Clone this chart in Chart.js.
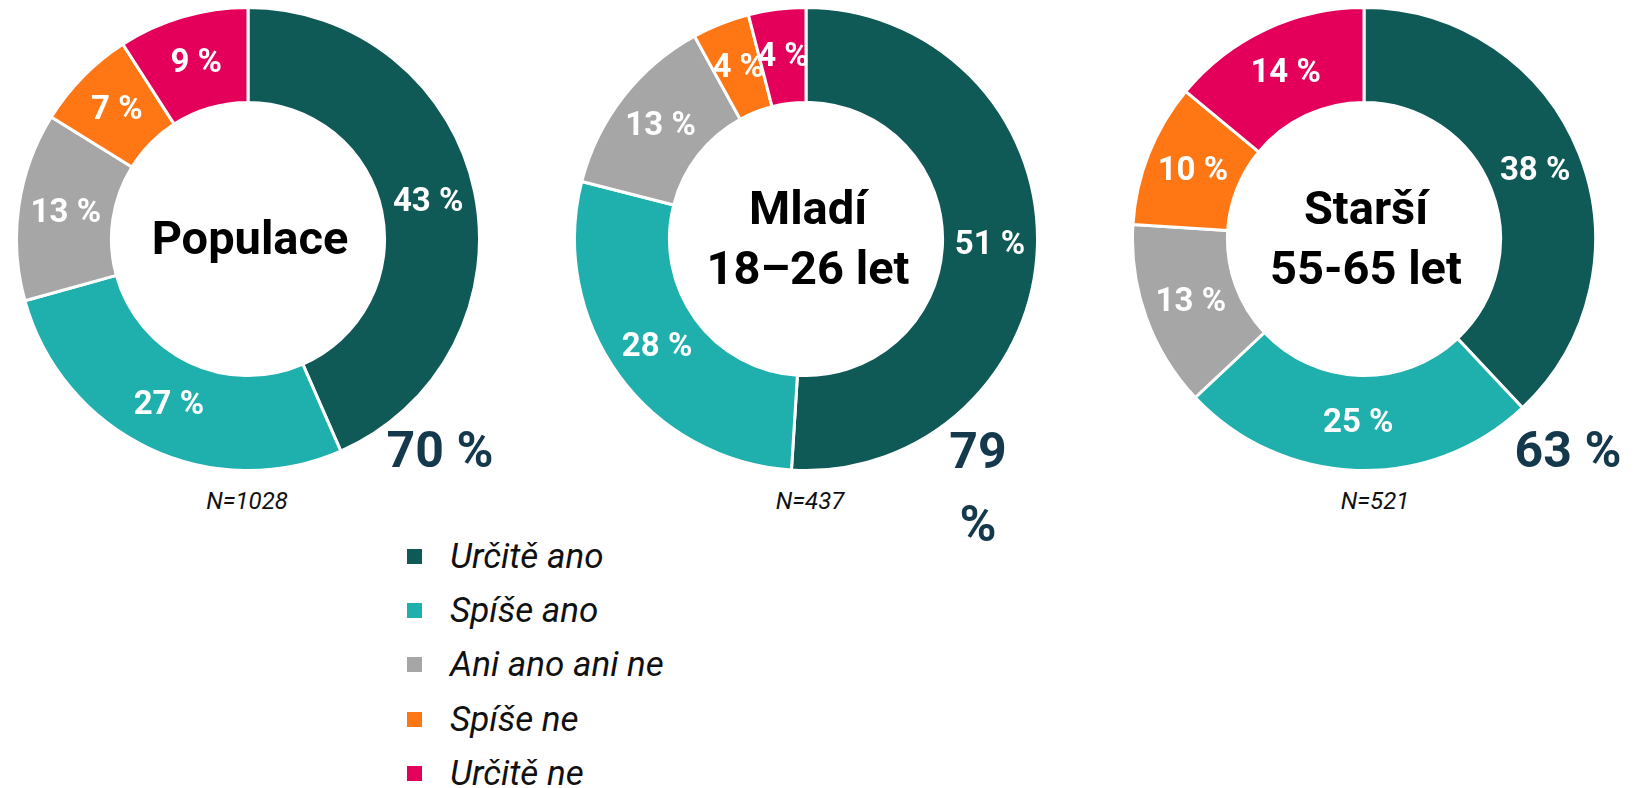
<!DOCTYPE html>
<html lang="cs">
<head>
<meta charset="utf-8">
<script src="https://cdn.jsdelivr.net/npm/chart.js@4"></script>
<style>
  html, body { margin: 0; padding: 0; background: #fff; }
  body { width: 1647px; height: 788px; position: relative; overflow: hidden; font-family: Roboto, "Noto Sans", sans-serif; }
  .box { position: absolute; width: 466px; height: 466px; }
  .txt { position: absolute; transform: translate(-50%, -50%); white-space: nowrap; text-align: center; }
  .center { font-weight: 700; font-size: 47px; line-height: 60px; color: #000; }
  .total { font-weight: 700; font-size: 50px; line-height: 73px; color: #14394d; white-space: normal; }
  .n { font-style: italic; font-size: 24px; color: #111; }
  #legend { position: absolute; left: 407px; top: 529px; }
  .row { height: 54.4px; display: flex; align-items: center; }
  .sq { width: 15px; height: 15px; margin-right: 28px; }
  .lab { font-style: italic; font-size: 35px; color: #111; }
</style>
</head>
<body>

<div class="box" style="left:15px;top:6px"><canvas id="c0"></canvas></div>
<div class="box" style="left:573px;top:6px"><canvas id="c1"></canvas></div>
<div class="box" style="left:1131px;top:6px"><canvas id="c2"></canvas></div>
<div id="labels"></div>
<div id="legend"></div>

<script>
/* DATA */
const categories = ["Určitě ano", "Spíše ano", "Ani ano ani ne", "Spíše ne", "Určitě ne"];

const colors = ["#0f5957", "#1fb0ad", "#a6a6a6", "#ff7615", "#e4005a"];

const populace = [43, 27, 13, 7, 9];
const mladi = [51, 28, 13, 4, 4];
const starsi = [38, 25, 13, 10, 14];

const groupTitles = [["Populace"], ["Mladí", "18–26 let"], ["Starší", "55-65 let"]];
const sampleSizes = [1028, 437, 521];


/* LAYOUT (page pixels) */
const centers = [[248, 238], [806, 238], [1364, 238]];
const totalPos = [[440, 450], [978, 488], [1568, 450]];
const totalWidth = [140, 70, 140];
const nPos = [[247, 501], [810, 501], [1375, 501]];


/* SLICE LABELS */
const sliceLabels = {
  id: "sliceLabels",
  afterDatasetsDraw(chart) {
    const ctx = chart.ctx;
    const meta = chart.getDatasetMeta(0);
    const values = chart.data.datasets[0].data;
    ctx.save();
    ctx.fillStyle = "#fff";
    ctx.font = "700 33px Roboto";
    ctx.textAlign = "center";
    ctx.textBaseline = "middle";
    meta.data.forEach((arc, i) => {
      const p = arc.tooltipPosition();
      ctx.fillText(values[i] + " %", p.x, p.y + 1);
    });
    ctx.restore();
  }
};


function makeChart(id, values) {
  return new Chart(document.getElementById(id), {
    type: "doughnut",
    data: {
      labels: categories,
      datasets: [{
        data: values,
        backgroundColor: colors,
        borderColor: "#fff",
        borderWidth: 3
      }]
    },
    options: {
      responsive: true,
      maintainAspectRatio: false,
      animation: false,
      cutout: "59%",
      plugins: {
        legend: { display: false },
        tooltip: { enabled: false }
      }
    },
    plugins: [sliceLabels]
  });
}

makeChart("c0", populace);
makeChart("c1", mladi);
makeChart("c2", starsi);


/* TEXTS */
const labels = document.getElementById("labels");

[populace, mladi, starsi].forEach((values, i) => {

  labels.innerHTML += `
    <div class="txt center" style="left:${centers[i][0] + 2}px;top:${centers[i][1]}px">${groupTitles[i].join("<br>")}</div>
    <div class="txt total" style="left:${totalPos[i][0]}px;top:${totalPos[i][1]}px;width:${totalWidth[i]}px">${values[0] + values[1]} %</div>
    <div class="txt n" style="left:${nPos[i][0]}px;top:${nPos[i][1]}px">N=${sampleSizes[i]}</div>
  `;

});


/* LEGEND */
const legend = document.getElementById("legend");

categories.forEach((name, i) => {
  legend.innerHTML += `
    <div class="row"><div class="sq" style="background:${colors[i]}"></div><div class="lab">${name}</div></div>
  `;
});
</script>
</body>
</html>
